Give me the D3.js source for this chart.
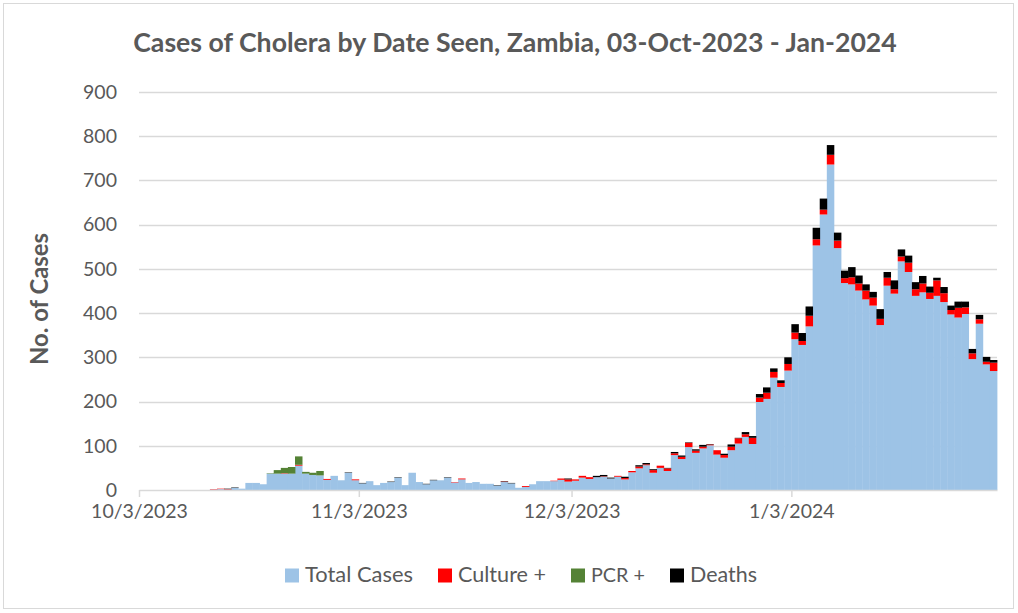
<!DOCTYPE html>
<html><head><meta charset="utf-8">
<script src="https://cdn.jsdelivr.net/npm/d3@7"></script>
<style>
body{margin:0;background:#fff}
text{font-family:Lato,'Open Sans',sans-serif;fill:#595959}
</style>
</head><body>
<svg id="c" width="1018" height="613"></svg>
<script>
// ---------- data ----------
const startDate = new Date(2023, 9, 3);
const endDate = new Date(2024, 1, 1); // exclusive: last bar is 31-Jan-2024
const totalCases = [
0,0,0,0,0,0,0,0,0,0,
1,2,1,5,3,16,16,13,37,37,
37,37,55,37,34,33,23,32,22,39,
22,15,20,11,16,18,28,11,39,18,
13,22,22,28,17,24,16,18,14,14,
10,18,15,5,7,13,20,20,20,23,
19,21,28,25,29,30,26,30,24,40,
49,56,39,50,43,79,70,97,84,94,
101,80,73,90,105,120,104,199,206,254,
233,270,341,328,370,553,623,736,547,468,
465,451,431,417,373,462,444,517,493,439,
447,432,439,425,397,390,398,296,376,284,
269];
const culturePos = [
0,0,0,0,0,0,0,0,0,0,
1,1,1,0,0,0,0,0,0,0,
1,0,2,0,0,0,2,0,0,0,
2,0,0,0,0,0,0,0,0,0,
0,0,0,0,1,2,0,0,0,0,
0,1,0,0,2,0,0,0,1,3,
5,3,4,4,0,1,0,2,3,3,
4,2,6,5,6,4,5,10,5,4,
2,10,6,8,12,6,14,10,14,13,
9,15,15,9,24,14,11,22,17,11,
16,16,20,18,14,18,10,11,21,15,
20,14,35,20,10,22,15,13,10,6,
19];
const pcrPos = [
0,0,0,0,0,0,0,0,0,0,
0,0,0,0,0,0,0,0,1,8,
12,15,19,4,5,10,0,0,0,0,
0,0,0,0,0,0,0,0,0,0,
0,0,0,0,0,0,0,0,0,0,
0,0,0,0,0,0,0,0,0,0,
0,0,0,0,0,0,0,0,0,0,
0,0,0,0,0,0,0,0,0,0,
0,0,0,0,0,0,0,0,0,0,
0,0,0,0,0,0,0,0,0,0,
0,0,0,0,0,0,0,0,0,0,
0,0,0,0,0,0,0,0,0,0,
0];
const deaths = [
0,0,0,0,0,0,0,0,0,0,
0,0,1,1,0,0,0,0,0,0,
0,0,0,0,0,0,0,0,0,1,
0,1,0,0,0,1,1,0,0,0,
1,1,0,1,0,0,0,0,0,0,
1,1,1,0,0,0,0,0,0,0,
2,0,0,0,3,3,2,0,3,0,
3,3,2,0,1,3,3,1,3,4,
1,0,3,5,1,5,4,8,12,8,
6,15,19,18,21,26,25,22,18,17,
23,18,14,13,22,13,20,16,16,16,
17,14,6,14,10,14,13,10,10,11,
6];
const seriesNames = ["Total Cases", "Culture +", "PCR +", "Deaths"];
const seriesColors = ["#9DC3E6", "#FF0000", "#548235", "#000000"];
const tickDates = [new Date(2023,9,3), new Date(2023,10,3), new Date(2023,11,3), new Date(2024,0,3)];
const yTicks = [0,100,200,300,400,500,600,700,800,900];
const titleText = "Cases of Cholera by Date Seen, Zambia, 03-Oct-2023 - Jan-2024";
const yTitleText = "No. of Cases";

// ---------- build ----------
const dates = d3.timeDay.range(startDate, endDate);
const rows = dates.map((d, i) => ({
  date: d,
  "Total Cases": totalCases[i],
  "Culture +": culturePos[i],
  "PCR +": pcrPos[i],
  "Deaths": deaths[i]
}));
const stacked = d3.stack().keys(seriesNames)(rows);

const svg = d3.select("#c");
const x = d3.scaleTime().domain([startDate, endDate]).range([139, 997]);
const y = d3.scaleLinear().domain([0, 900]).range([490, 92]);
const color = d3.scaleOrdinal().domain(seriesNames).range(seriesColors);

function fit(sel, target) {
  const w = sel.node().getComputedTextLength();
  const fs = parseFloat(sel.style("font-size"));
  if (w > 0) sel.style("font-size", (fs * target / w) + "px");
}

// outer border
svg.append("rect").attr("x", 3.5).attr("y", 3.5).attr("width", 1010).attr("height", 605)
  .attr("fill", "#fff").attr("stroke", "#d9d9d9").attr("stroke-width", 1);

// title
const title = svg.append("text").attr("x", 515).attr("y", 52).attr("text-anchor", "middle")
  .style("font-size", "22px").style("font-weight", "700").text(titleText);
fit(title, 764);

// gridlines
svg.append("g").selectAll("line").data(yTicks.filter(v => v > 0)).join("line")
  .attr("x1", 139).attr("x2", 997)
  .attr("y1", d => Math.round(y(d)) + 0.5).attr("y2", d => Math.round(y(d)) + 0.5)
  .attr("stroke", "#d9d9d9").attr("stroke-width", 1.3);

// bars
svg.append("g").selectAll("g").data(stacked).join("g")
  .attr("fill", d => color(d.key))
  .selectAll("rect").data(d => d).join("rect")
  .attr("x", d => x(d.data.date))
  .attr("width", d => x(d3.timeDay.offset(d.data.date, 1)) - x(d.data.date) + 0.4)
  .attr("y", d => y(d[1]))
  .attr("height", d => Math.max(0, y(d[0]) - y(d[1])));

// y axis labels
const yAxis = svg.append("g").attr("transform", "translate(139,0)")
  .call(d3.axisLeft(y).tickValues(yTicks).tickSize(0).tickPadding(22));
yAxis.select(".domain").remove();
yAxis.selectAll("text").style("font-size", "19.5px").style("font-family", "Lato,'Open Sans',sans-serif").attr("fill", "#595959");

// x axis
const xAxis = svg.append("g").attr("transform", "translate(0,490)")
  .call(d3.axisBottom(x).tickValues(tickDates).tickFormat(d3.timeFormat("%-m/%-d/%Y"))
    .tickSize(7).tickSizeOuter(0).tickPadding(7));
xAxis.select(".domain").attr("stroke", "#d9d9d9").attr("stroke-width", 1.5);
xAxis.selectAll(".tick line").attr("stroke", "#d9d9d9").attr("stroke-width", 1.5);
xAxis.selectAll("text").style("font-size", "19.5px").style("font-family", "Lato,'Open Sans',sans-serif").attr("fill", "#595959");

// y title
const yTitle = svg.append("text").attr("transform", "translate(48,299) rotate(-90)")
  .attr("text-anchor", "middle").style("font-size", "20px").style("font-weight", "700").text(yTitleText);
fit(yTitle, 132);

// legend
const legendX = [285, 438, 571, 670];
const legendW = [108, 88, 54, 67];
const lg = svg.append("g").selectAll("g").data(seriesNames).join("g");
lg.append("rect").attr("x", (d, i) => legendX[i]).attr("y", 568.5).attr("width", 14).attr("height", 14)
  .attr("fill", d => color(d));
lg.append("text").attr("x", (d, i) => legendX[i] + 20).attr("y", 582)
  .style("font-size", "19.5px").text(d => d)
  .each(function(d, i){ fit(d3.select(this), legendW[i]); });
</script>
</body></html>
